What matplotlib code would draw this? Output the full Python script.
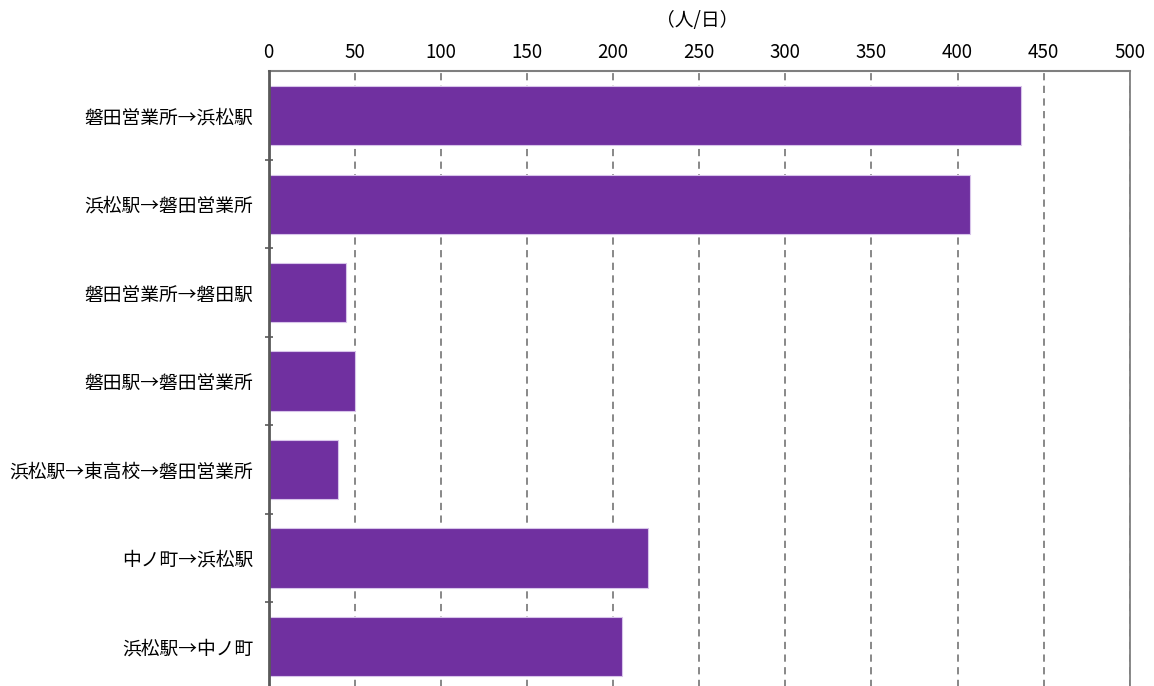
import matplotlib.pyplot as plt
import numpy as np

# フォント設定（日本語）
plt.rcParams['font.family'] = ['Noto Sans CJK JP', 'DejaVu Sans']

# データ
routes = ['磐田営業所→浜松駅', '浜松駅→磐田営業所', '磐田営業所→磐田駅', '磐田駅→磐田営業所',
          '浜松駅→東高校→磐田営業所', '中ノ町→浜松駅', '浜松駅→中ノ町']
riders = [437, 407, 45, 50, 40, 220, 205]
xticks = [0, 50, 100, 150, 200, 250, 300, 350, 400, 450, 500]

fig = plt.figure(figsize=(11.54, 6.86), dpi=100)
ax = fig.add_axes([0.2328, -0.0069, 0.7462, 0.903])

y = np.arange(len(routes))
ax.barh(y, riders, height=0.667, color='#7030A0', edgecolor='#d8c4ea', linewidth=0.8, zorder=3)

ax.set_xlim(0, 500)
ax.set_ylim(len(routes) - 0.5, -0.5)
ax.set_xticks(xticks)
ax.xaxis.tick_top()
ax.tick_params(axis='x', length=0, pad=6, labelsize=13.5)
ax.grid(axis='x', color='#7f7f7f', linestyle=(0, (4, 3)), linewidth=1.3, zorder=1)

ax.set_yticks(y)
ax.set_yticklabels(routes, fontsize=13.5)
ax.tick_params(axis='y', which='major', length=0, pad=11)
ax.set_yticks(np.arange(0.5, len(routes) - 0.5, 1), minor=True)
ax.tick_params(axis='y', which='minor', length=6, width=1.2, color='#595959', direction='inout')

ax.spines['bottom'].set_visible(False)
ax.spines['top'].set_color('#7f7f7f')
ax.spines['top'].set_linewidth(1.5)
ax.spines['right'].set_color('#7f7f7f')
ax.spines['right'].set_linewidth(1.3)
ax.spines['left'].set_color('#595959')
ax.spines['left'].set_linewidth(2)
ax.spines['left'].set_zorder(4)

fig.text(0.604, 0.97, '（人/日）', ha='center', va='center', fontsize=13.5)

fig.savefig('out.png', dpi=100)
